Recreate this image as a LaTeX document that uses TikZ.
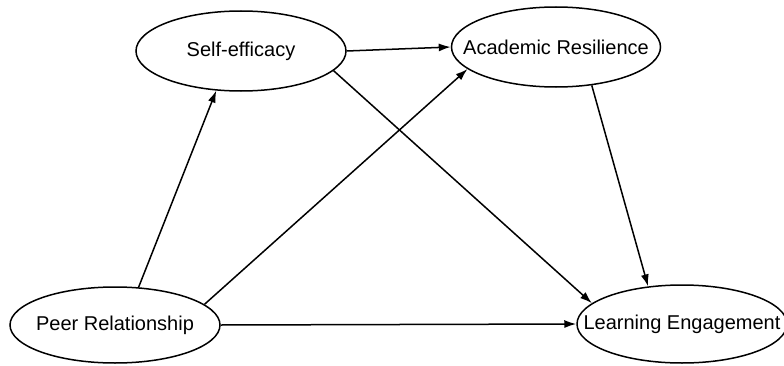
\documentclass[tikz,border=0pt]{standalone}
\usepackage{fontspec}
\setmainfont{Liberation Sans}
\usetikzlibrary{shapes.geometric,arrows.meta}
\begin{document}
\begin{tikzpicture}[x=1pt,y=1pt,
  var/.style={draw, ellipse, line width=1.5pt, inner sep=0pt},
  lbl/.style={font=\fontsize{20}{24}\selectfont},
  path/.style={line width=1.5pt, -{Latex[length=12pt,width=8pt]}}]
\useasboundingbox (0,0) rectangle (784,365);
\node[var, minimum width=210pt, minimum height=80pt] (se) at (241,314) {};
\node[lbl] (set) at (se.center) {Self-efficacy};
\node[var, minimum width=209pt, minimum height=80pt] (ar) at (556,318) {};
\node[lbl] (art) at (ar.center) {Academic Resilience};
\node[var, minimum width=210pt, minimum height=76pt] (pr) at (115,40) {};
\node[lbl] (prt) at (pr.center) {Peer Relationship};
\node[var, minimum width=210pt, minimum height=78pt] (le) at (682,41) {};
\node[lbl] (let) at (le.center) {Learning Engagement};
\draw[path] (pr.58) -- (se.238);
\draw[path] (se.0) -- (ar.180);
\draw[path] (pr.13) -- (ar.194.5);
\draw[path] (se.-12.3) -- (le.167);
\draw[path] (ar.-47) -- (le.132.6);
\draw[path] (pr.0) -- (le.180);
\end{tikzpicture}
\end{document}
